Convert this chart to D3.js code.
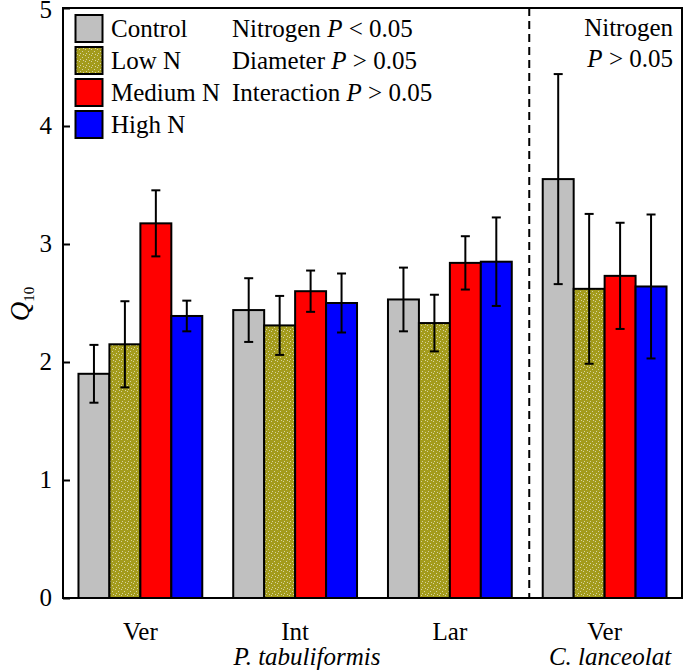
<!DOCTYPE html>
<html><head><meta charset="utf-8">
<script src="https://cdn.jsdelivr.net/npm/d3@7"></script>
<style>body{margin:0;background:#fff}svg{display:block}</style>
</head><body><svg id="c" width="685" height="670" font-family="Liberation Serif"></svg>
<script>
const groups = ["Ver","Int","Lar","Ver"];
const series = ["Control","Low N","Medium N","High N"];
const control = [1.90, 2.44, 2.53, 3.55];
const controlErr = [0.245, 0.27, 0.27, 0.89];
const lowN = [2.15, 2.31, 2.33, 2.62];
const lowNErr = [0.365, 0.25, 0.24, 0.635];
const mediumN = [3.175, 2.60, 2.84, 2.73];
const mediumNErr = [0.28, 0.175, 0.226, 0.45];
const highN = [2.39, 2.50, 2.85, 2.64];
const highNErr = [0.13, 0.25, 0.375, 0.61];
const yTicks = [0,1,2,3,4,5];
const legendStats = [["Nitrogen ","P"," < 0.05"],["Diameter ","P"," > 0.05"],["Interaction ","P"," > 0.05"]];

const values = [control, lowN, mediumN, highN];
const errs = [controlErr, lowNErr, mediumNErr, highNErr];
const colors = ["#c0c0c0","url(#olive)","#ff0000","#0000ff"];
const FS = 25;

const svg = d3.select("#c");
const defs = svg.append("defs");
const pat = defs.append("pattern").attr("id","olive").attr("patternUnits","userSpaceOnUse").attr("width",6).attr("height",6);
pat.append("rect").attr("width",6).attr("height",6).attr("fill","#a39b1c");
[[1,1],[4,3],[2,5],[5,0]].forEach(([x,y])=>pat.append("rect").attr("x",x).attr("y",y).attr("width",1).attr("height",1).attr("fill","#d8d4a0"));

const L=63, R=682, T=8, B=598;
const x0 = d3.scaleBand().domain(d3.range(groups.length)).range([L,R]).paddingInner(0.2).paddingOuter(0.1);
const x1 = d3.scaleBand().domain(d3.range(series.length)).range([0,x0.bandwidth()]);
const y = d3.scaleLinear().domain([0,5]).range([B,T]);

// bars
const g = svg.append("g");
groups.forEach((gn,gi)=>{
  series.forEach((s,si)=>{
    const v = values[si][gi], e = errs[si][gi];
    const bx = x0(gi)+x1(si);
    g.append("rect").attr("x",bx).attr("y",y(v)).attr("width",x1.bandwidth()).attr("height",y(0)-y(v))
      .attr("fill",colors[si]).attr("stroke","#000").attr("stroke-width",2);
    const cx = bx + x1.bandwidth()/2;
    g.append("line").attr("x1",cx).attr("x2",cx).attr("y1",y(v+e)).attr("y2",y(v-e)).attr("stroke","#000").attr("stroke-width",2);
    [v+e,v-e].forEach(t=>g.append("line").attr("x1",cx-4.5).attr("x2",cx+4.5).attr("y1",y(t)).attr("y2",y(t)).attr("stroke","#000").attr("stroke-width",2));
  });
});

// dashed separator
const sepX = (x0(2)+x0.bandwidth()+x0(3))/2 + 2;
svg.append("line").attr("x1",sepX).attr("x2",sepX).attr("y1",T).attr("y2",B).attr("stroke","#000").attr("stroke-width",2).attr("stroke-dasharray","8,5");

// y axis
const ya = svg.append("g").attr("transform",`translate(${L},0)`)
  .call(d3.axisRight(y).tickValues(yTicks).tickSize(7).tickFormat(""));
ya.select(".domain").remove();
ya.selectAll("line").attr("stroke","#000").attr("stroke-width",2);
svg.append("g").selectAll("text").data(yTicks).join("text")
  .attr("x",L-11).attr("y",d=>Math.max(y(d)+8,18)).attr("text-anchor","end").attr("font-size",FS).text(d=>d);

// frame
svg.append("rect").attr("x",L).attr("y",T).attr("width",R-L).attr("height",B-T).attr("fill","none").attr("stroke","#000").attr("stroke-width",2);

// x labels
svg.append("g").selectAll("text").data(groups).join("text")
  .attr("x",(d,i)=>x0(i)+x0.bandwidth()/2).attr("y",640).attr("text-anchor","middle").attr("font-size",FS).text(d=>d);
svg.append("text").attr("x",307).attr("y",665).attr("text-anchor","middle").attr("font-size",FS).attr("font-style","italic").text("P. tabuliformis");
svg.append("text").attr("x",610).attr("y",665).attr("text-anchor","middle").attr("font-size",FS).attr("font-style","italic").text("C. lanceolat");

// y label
const yl = svg.append("text").attr("transform","translate(29,304) rotate(-90)").attr("text-anchor","middle").attr("font-size",27);
yl.append("tspan").attr("font-style","italic").text("Q");
yl.append("tspan").attr("font-size",15).attr("dy",5).text("10");

// legend
const lg = svg.append("g");
series.forEach((s,i)=>{
  const ty = 15 + i*32;
  lg.append("rect").attr("x",75.5).attr("y",ty).attr("width",27).attr("height",27).attr("fill",colors[i]).attr("stroke","#000").attr("stroke-width",2);
  lg.append("text").attr("x",111).attr("y",ty+22).attr("font-size",FS).text(s);
});
legendStats.forEach((st,i)=>{
  const t = lg.append("text").attr("x",232).attr("y",37+i*32).attr("font-size",FS);
  t.append("tspan").text(st[0]);
  t.append("tspan").attr("font-style","italic").text(st[1]);
  t.append("tspan").text(st[2]);
});
svg.append("text").attr("x",673).attr("y",36).attr("text-anchor","end").attr("font-size",FS).text("Nitrogen");
const pt = svg.append("text").attr("x",673).attr("y",67).attr("text-anchor","end").attr("font-size",FS);
pt.append("tspan").attr("font-style","italic").text("P");
pt.append("tspan").text(" > 0.05");
</script></body></html>
